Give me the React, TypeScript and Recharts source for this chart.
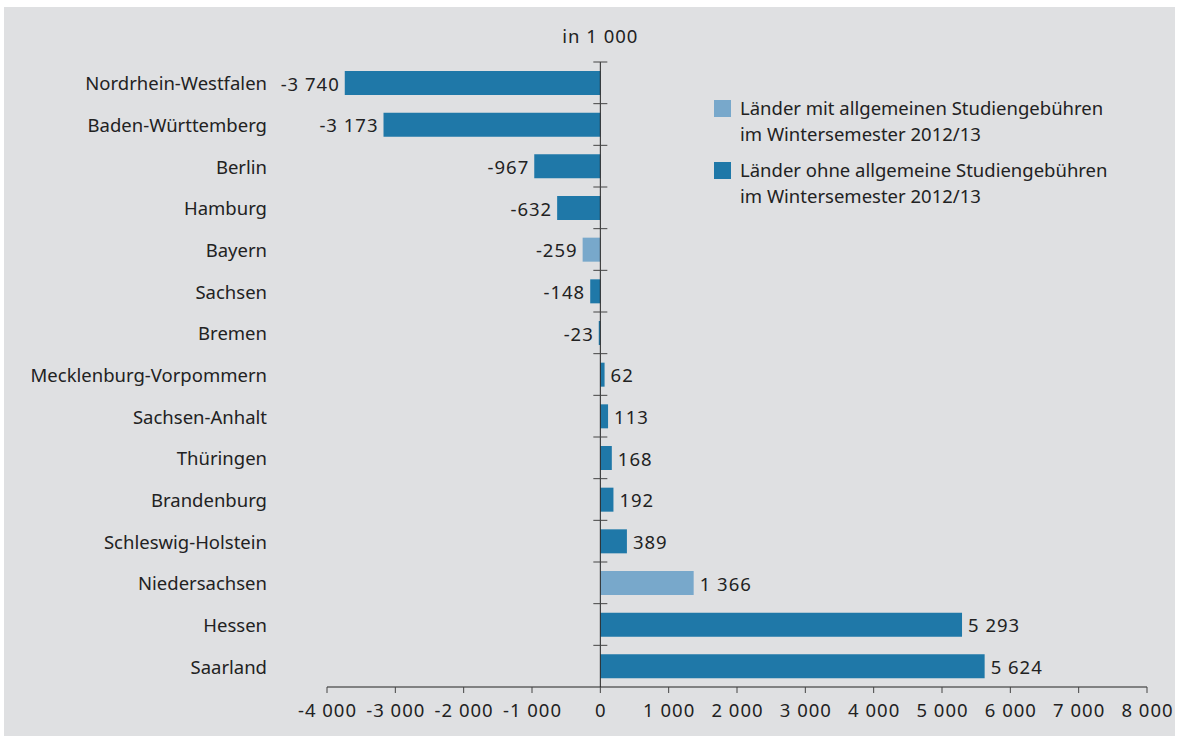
import { BarChart, Bar, XAxis, YAxis, Cell, LabelList, ReferenceLine } from 'recharts';

const laender = [
  'Nordrhein-Westfalen',
  'Baden-Württemberg',
  'Berlin',
  'Hamburg',
  'Bayern',
  'Sachsen',
  'Bremen',
  'Mecklenburg-Vorpommern',
  'Sachsen-Anhalt',
  'Thüringen',
  'Brandenburg',
  'Schleswig-Holstein',
  'Niedersachsen',
  'Hessen',
  'Saarland',
];
const saldo = [-3740, -3173, -967, -632, -259, -148, -23, 62, 113, 168, 192, 389, 1366, 5293, 5624];
const mitGebuehren = [false, false, false, false, true, false, false, false, false, false, false, false, true, false, false];
const xTicks = [-4000, -3000, -2000, -1000, 0, 1000, 2000, 3000, 4000, 5000, 6000, 7000, 8000];

const data = laender.map((name, i) => ({ name, value: saldo[i], fee: mitGebuehren[i] }));

const LIGHT = '#78a8cb';
const DARK = '#1f78a8';
const TEXT = '#222';
const FONT = '"Noto Sans", "Open Sans", sans-serif';
const FS = 18.5;
const NUM_SPACING = 1;

const W = 1177;
const H = 736;
const X_H = 40;
const MARGIN = { top: 62, right: 30, bottom: 9, left: 0 };
const Y_W = 327;
const X_MIN = -4000;
const X_MAX = 8000;
const PLOT_W = W - MARGIN.right - MARGIN.left - Y_W;
const PLOT_H = H - MARGIN.top - MARGIN.bottom - X_H;
const BAND = PLOT_H / laender.length;
const ZERO_X = Y_W + (PLOT_W * (0 - X_MIN)) / (X_MAX - X_MIN);

const fmt = (v: number) => {
  const s = Math.abs(v).toString().replace(/\B(?=(\d{3})+(?!\d))/g, ' ');
  return v < 0 ? '-' + s : s;
};

function CategoryTick(props: any) {
  const { x, y, payload } = props;
  return (
    <g>
      <line x1={ZERO_X - 7} x2={ZERO_X + 7} y1={y - BAND / 2} y2={y - BAND / 2} stroke="#444" strokeWidth={1} />
      <text x={x} y={y} textAnchor="end" dominantBaseline="central" fill={TEXT} fontSize={FS} fontFamily={FONT}>
        {payload.value}
      </text>
    </g>
  );
}

function ValueTick(props: any) {
  const { x, y, payload } = props;
  return (
    <text
      x={x + NUM_SPACING / 2}
      y={y}
      dy="0.71em"
      textAnchor="middle"
      fill={TEXT}
      fontSize={FS}
      fontFamily={FONT}
      letterSpacing={NUM_SPACING}
    >
      {fmt(payload.value)}
    </text>
  );
}

function ValueLabel(props: any) {
  const { x, y, width, height, value } = props;
  const neg = value < 0;
  const endX = x + width;
  return (
    <text
      x={neg ? Math.min(x, endX) - 5 : Math.max(x, endX) + 6}
      y={y + height / 2}
      textAnchor={neg ? 'end' : 'start'}
      dominantBaseline="central"
      fill={TEXT}
      fontSize={FS}
      fontFamily={FONT}
      letterSpacing={NUM_SPACING}
    >
      {fmt(value)}
    </text>
  );
}

export default function App() {
  return (
    <div style={{ position: 'absolute', left: 0, top: 0, width: W, height: H, background: '#fff', fontFamily: FONT }}>
      <div style={{ position: 'absolute', left: 4, top: 7, width: W - 6, height: H - 7, background: '#dfe0e2' }} />
      <div
        style={{
          position: 'absolute',
          left: ZERO_X - 100,
          width: 200,
          top: 23,
          textAlign: 'center',
          fontSize: FS,
          letterSpacing: NUM_SPACING,
          color: TEXT,
        }}
      >
        in 1 000
      </div>
      <div style={{ position: 'absolute', left: 0, top: 0 }}>
        <BarChart width={W} height={H} data={data} layout="vertical" margin={MARGIN}>
          <XAxis
            type="number"
            domain={[X_MIN, X_MAX]}
            ticks={xTicks}
            height={X_H}
            axisLine={{ stroke: '#222' }}
            tickLine={{ stroke: '#444' }}
            tickSize={6}
            tick={<ValueTick />}
            tickMargin={11}
            interval={0}
          />
          <YAxis
            type="category"
            dataKey="name"
            width={Y_W}
            axisLine={false}
            tickLine={false}
            tickSize={0}
            tickMargin={60}
            interval={0}
            tick={<CategoryTick />}
          />
          <Bar dataKey="value" barSize={24} isAnimationActive={false}>
            {data.map((d) => (
              <Cell key={d.name} fill={d.fee ? LIGHT : DARK} />
            ))}
            <LabelList dataKey="value" content={<ValueLabel />} />
          </Bar>
          <ReferenceLine x={0} stroke="#222" strokeWidth={1} />
        </BarChart>
      </div>
      <div style={{ position: 'absolute', left: 714, top: 95, fontSize: FS, color: TEXT, lineHeight: '26px' }}>
        {[
          { color: LIGHT, l1: 'Länder mit allgemeinen Studiengebühren', l2: 'im Wintersemester 2012/13' },
          { color: DARK, l1: 'Länder ohne allgemeine Studiengebühren', l2: 'im Wintersemester 2012/13' },
        ].map((item, i) => (
          <div key={i} style={{ display: 'flex', alignItems: 'flex-start', marginBottom: i === 0 ? 10 : 0 }}>
            <div style={{ width: 17, height: 17, background: item.color, marginTop: 5, marginRight: 9, flexShrink: 0 }} />
            <div>
              <div>{item.l1}</div>
              <div>{item.l2}</div>
            </div>
          </div>
        ))}
      </div>
    </div>
  );
}
